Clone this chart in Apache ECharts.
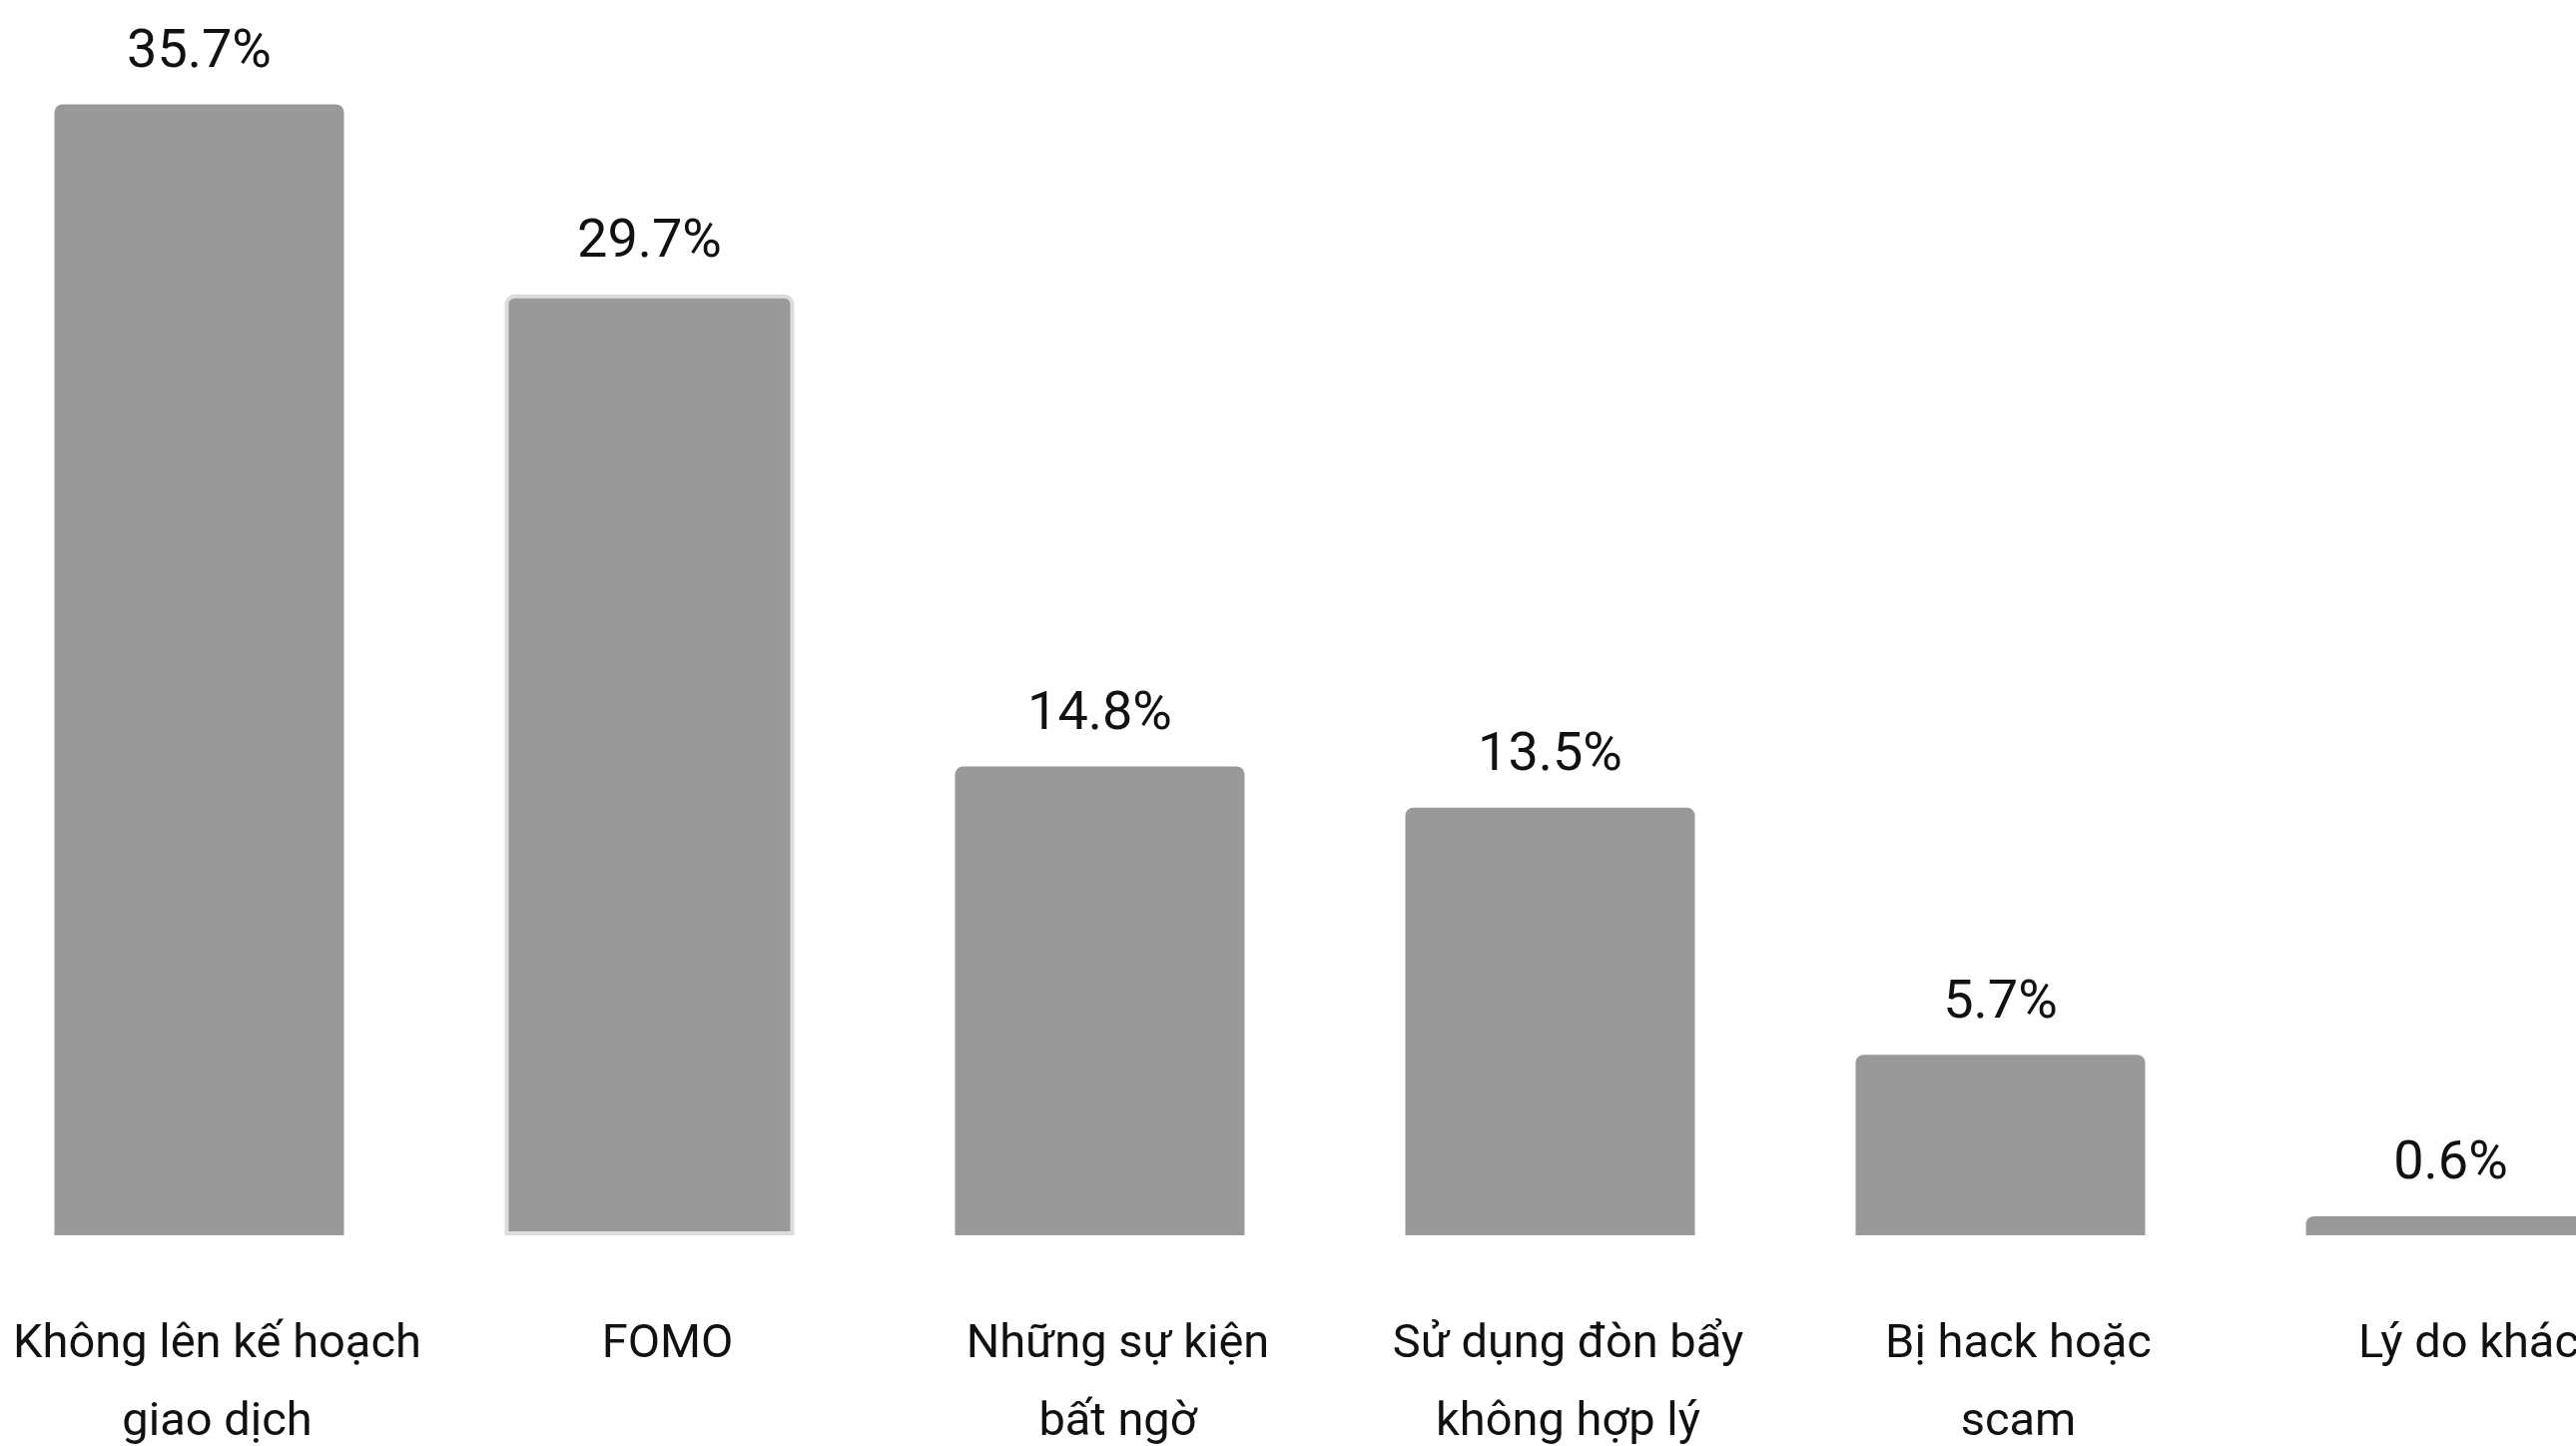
<!DOCTYPE html>
<html>
<head>
<meta charset="utf-8">
<script src="https://cdn.jsdelivr.net/npm/echarts@6/dist/echarts.min.js"></script>
<style>
html,body{margin:0;padding:0;background:#ffffff;overflow:hidden;width:2580px;height:1448px;}
#chart{position:absolute;left:-26px;top:0;width:2706px;height:1448px;}
</style>
</head>
<body>
<div id="chart"></div>
<script>
const categories = [
  "Không lên kế hoạch\ngiao dịch",
  "FOMO",
  "Những sự kiện\nbất ngờ",
  "Sử dụng đòn bẩy\nkhông hợp lý",
  "Bị hack hoặc\nscam",
  "Lý do khác"
];
const values = [35.7, 29.7, 14.8, 13.5, 5.7, 0.6];
const highlightedIndex = 1;

const chart = echarts.init(document.getElementById('chart'));
const data = values.map((v, i) => i === highlightedIndex
  ? { value: v, itemStyle: { borderColor: '#dcdcdc', borderWidth: 4 } }
  : v);

chart.setOption({
  backgroundColor: '#ffffff',
  animation: false,
  grid: { left: 0, right: 0, top: 95, bottom: 211, containLabel: false, outerBoundsMode: 'none' },
  xAxis: {
    type: 'category',
    data: categories,
    axisLine: { show: false },
    axisTick: { show: false },
    axisLabel: {
      interval: 0,
      margin: 71,
      color: '#111111',
      fontFamily: 'Roboto',
      fontSize: 47,
      lineHeight: 78,
      padding: [0, 0, 0, 36]
    }
  },
  yAxis: {
    type: 'value',
    min: 0,
    max: 36,
    show: false,
    splitLine: { show: false }
  },
  series: [{
    type: 'bar',
    data: data,
    barWidth: 290,
    itemStyle: { color: '#999999', borderRadius: [8, 8, 0, 0] },
    label: {
      show: true,
      position: 'top',
      distance: 24,
      color: '#111111',
      fontFamily: 'Roboto',
      fontSize: 54,
      formatter: p => p.value.toFixed(1) + '%'
    }
  }]
});
</script>
</body>
</html>
